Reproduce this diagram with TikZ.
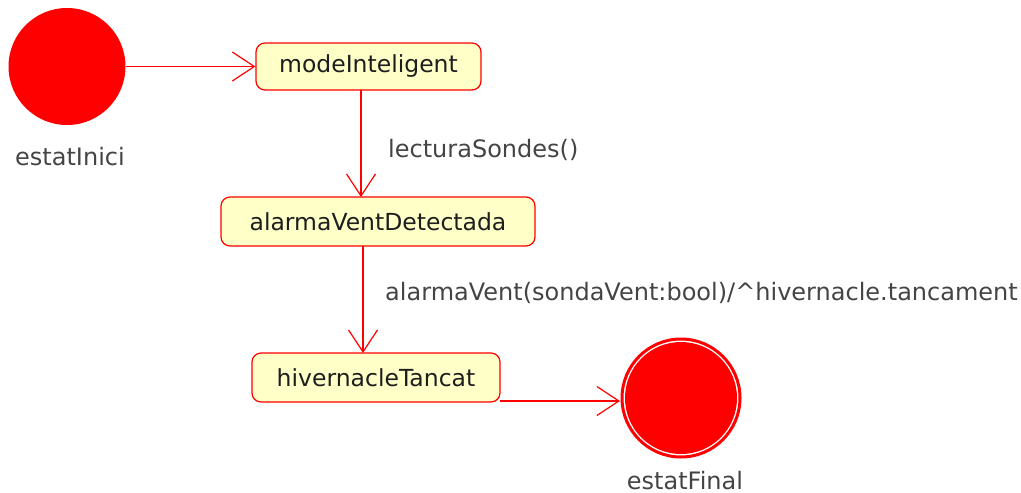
\documentclass[tikz,border=0pt]{standalone}
\usepackage{fontspec}
\setmainfont{DejaVu Sans}
\usetikzlibrary{arrows.meta}
\definecolor{umlred}{RGB}{255,0,0}
\definecolor{statefill}{RGB}{255,255,200}
\definecolor{nodetext}{RGB}{30,30,30}
\definecolor{labeltext}{RGB}{68,68,68}
\begin{document}
\begin{tikzpicture}[x=1pt,y=-1pt,
  statebox/.style={draw=umlred,fill=statefill,line width=1.2pt,rounded corners=9pt,inner sep=0pt,text=nodetext,font=\fontsize{23.5}{26}\selectfont},
  trans/.style={draw=umlred,line width=1.3pt,-{Straight Barb[length=22pt,width=29pt,line width=1.2pt]}},
  lbl/.style={text=labeltext,font=\fontsize{24}{27}\selectfont,inner sep=0pt},
  initstate/.style={circle,fill=umlred,draw=none,minimum size=117pt,inner sep=0pt}
]
\useasboundingbox (0,0) rectangle (1021,493);
\node[initstate] (ini) at (67,66.5) {};
\node[lbl,anchor=base] (iniL) at (70,165) {estatInici};
\node[statebox,minimum width=225pt,minimum height=47pt] (mode) at (368.5,66.5) {modeInteligent};
\node[statebox,minimum width=314pt,minimum height=49pt] (alarm) at (378,221.5) {alarmaVentDetectada};
\node[statebox,minimum width=248pt,minimum height=49pt] (hiv) at (376,377.5) {hivernacleTancat};
\node[circle,draw=umlred,line width=3pt,minimum size=118pt,inner sep=0pt] (fin) at (681,398) {};
\node[circle,fill=umlred,minimum size=112pt,inner sep=0pt] (finIn) at (681,398) {};
\node[lbl,anchor=base] (finL) at (685,489) {estatFinal};
\node[lbl,anchor=base west] (l1) at (388,157) {lecturaSondes()};
\node[lbl,anchor=base west] (l2) at (385,300) {alarmaVent(sondaVent:bool)/\^{}hivernacle.tancament};
\draw[trans] (ini.east) -- (mode.west);
\draw[trans] (361,90) -- (361,197);
\draw[trans] (363,246) -- (363,353);
\draw[trans] (500,401) -- (620,401);
\end{tikzpicture}
\end{document}
